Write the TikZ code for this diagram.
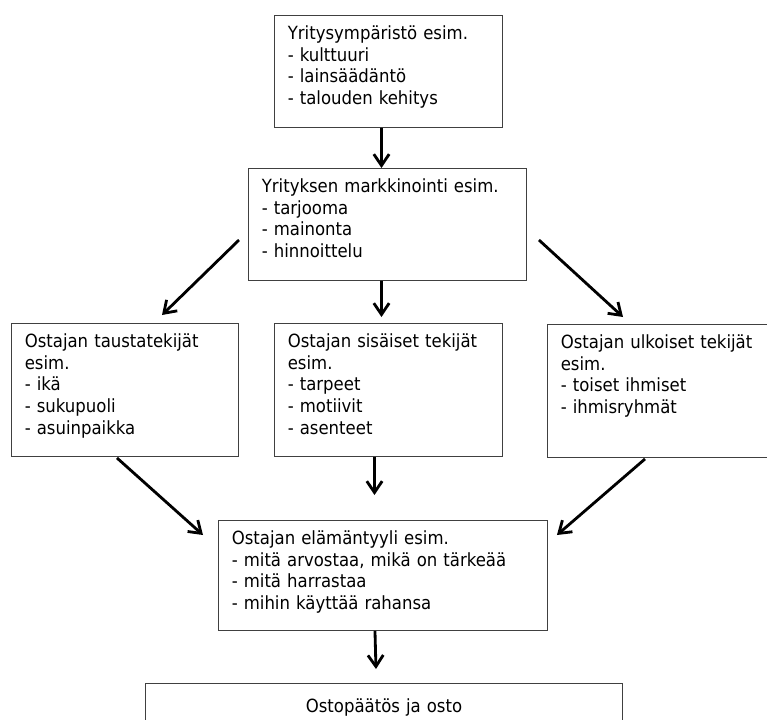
\documentclass[tikz,border=0pt]{standalone}
\usepackage{fontspec}
\setmainfont{DejaVu Sans}[FakeStretch=0.91]
\usetikzlibrary{arrows.meta,calc}

\begin{document}
\begin{tikzpicture}[x=0.03cm,y=-0.03cm,
    box/.style={draw=black!75,line width=0.8pt,anchor=north west,align=left,
      inner xsep=0.4cm,inner ysep=0.2cm,text height=0.52cm,
      font=\fontsize{15.5}{18.5}\selectfont},
    arr/.style={line width=2.4pt,-{Straight Barb[length=0.34cm,width=0.46cm]}}]
        \useasboundingbox (0,0) rectangle (767,719); % page size
        % boxes, top to bottom
        \node[box,text width=6.04cm,text depth=2.44cm] (env) at (274,15)
            {Yritysympäristö esim.\\- kulttuuri\\- lainsäädäntö\\- talouden kehitys};
        \node[box,text width=7.54cm,text depth=2.44cm] (mark) at (248,168)
            {Yrityksen markkinointi esim.\\- tarjooma\\- mainonta\\- hinnoittelu};
        \node[box,text width=6.01cm,text depth=3.07cm] (bg) at (11,323)
            {Ostajan taustatekijät\\esim.\\- ikä\\- sukupuoli\\- asuinpaikka};
        \node[box,text width=6.04cm,text depth=3.07cm] (inner) at (274,323)
            {Ostajan sisäiset tekijät\\esim.\\- tarpeet\\- motiivit\\- asenteet};
        \node[box,text width=6.7cm,text depth=3.07cm] (outer) at (547,324)
            {Ostajan ulkoiset tekijät\\esim.\\- toiset ihmiset\\- ihmisryhmät};
        \node[box,text width=9.07cm,text depth=2.38cm] (life) at (218,520)
            {Ostajan elämäntyyli esim.\\- mitä arvostaa, mikä on tärkeää\\- mitä harrastaa\\- mihin käyttää rahansa};
        \node[box,align=center,text width=13.51cm,text height=0.67cm,text depth=0.73cm] (buy) at (145,683)
            {Ostopäätös ja osto};
        % arrows
        \draw[arr] ($(env.south)+(-7,0)$) -- ($(mark.north)+(-6,0)$);
        \draw[arr] ($(mark.north west)+(-9,72)$) -- ($(bg.north west)+(151,-8)$);
        \draw[arr] ($(mark.south)+(-6,0)$) -- ($(inner.north)+(-7,-6)$);
        \draw[arr] ($(mark.north east)+(12,72)$) -- ($(outer.north west)+(76,-7)$);
        \draw[arr] ($(bg.south)+(-8,1)$) -- ($(life.north west)+(-15,15)$);
        \draw[arr] ($(inner.south)+(-14,0)$) -- ($(inner.south |- life.north)+(-14,-25)$);
        \draw[arr] ($(outer.south west)+(98,1)$) -- ($(life.north east)+(9,15)$);
        \draw[arr] ($(life.south)+(-8,0)$) -- ($(buy.north)+(-8,-14)$);
\end{tikzpicture}
\end{document}
